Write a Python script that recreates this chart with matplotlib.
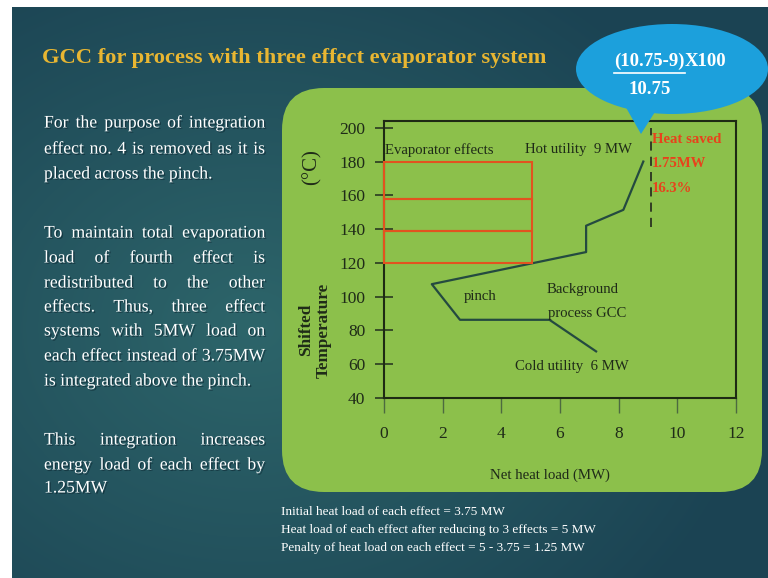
import numpy as np
import matplotlib
matplotlib.use("Agg")
import matplotlib.pyplot as plt
import matplotlib.patheffects as pe
from matplotlib.patches import FancyBboxPatch, Rectangle, Ellipse, Polygon

# ---- data ----
gcc_load = [8.84, 8.16, 6.89, 6.89, 1.63, 2.59, 5.64, 7.23]      # MW
gcc_temp = [180, 151.4, 142, 126.4, 107.4, 86.3, 86.3, 67.6]      # shifted T (C)
effect_bounds = [120, 139, 158, 180]                              # effect temperature levels
effect_load = 5.03                                                # MW per effect
saved_x = 9.1
saved_temp = [141, 200]
x_ticks = [0, 2, 4, 6, 8, 10, 12]
y_ticks = [40, 60, 80, 100, 120, 140, 160, 180, 200]

serif = "Liberation Serif"
W, H = 768, 578

fig = plt.figure(figsize=(7.68, 5.78), dpi=100, facecolor="white")

# background axes in pixel coordinates
bg = fig.add_axes([0, 0, 1, 1], zorder=0)
bg.set_xlim(0, W)
bg.set_ylim(H, 0)
bg.axis("off")

# teal slide background, lighter in the middle
yy, xx = np.mgrid[0:H - 7, 0:W - 12]
d = np.sqrt(((xx - 240) / 520.0) ** 2 + ((yy - 320) / 420.0) ** 2)
d = np.clip(d, 0, 1)[..., None]
c_in = np.array([0x2d, 0x65, 0x6a]) / 255.0
c_out = np.array([0x1b, 0x43, 0x53]) / 255.0
grad = c_in * (1 - d) + c_out * d
bg.imshow(grad, extent=(12, W, H, 7), aspect="auto", interpolation="bilinear")

# green rounded panel
bg.add_patch(FancyBboxPatch((282, 88), 480, 404,
                            boxstyle="round,pad=0,rounding_size=42",
                            facecolor="#8cc04b", edgecolor="none"))

shadow = [pe.withSimplePatchShadow(offset=(1, -1), shadow_rgbFace="#0b2530", alpha=0.6)]

# title
bg.text(42, 58, "GCC for process with three effect evaporator system", color="#e8b632",
        fontsize=16.2, fontweight="bold", family=serif, va="center", ha="left")

renderer = fig.canvas.get_renderer()


def put_line(text, y, x0=44, x1=265, justify=True, size=12.7):
    words = text.split()
    if not justify or len(words) < 2:
        bg.text(x0, y, text, color="white", fontsize=size, family=serif,
                va="center", ha="left", path_effects=shadow)
        return
    objs = [bg.text(0, y, w, color="white", fontsize=size, family=serif,
                    va="center", ha="left", path_effects=shadow) for w in words]
    widths = [o.get_window_extent(renderer).width for o in objs]
    gap = (x1 - x0 - sum(widths)) / (len(words) - 1)
    x = x0
    for o, w in zip(objs, widths):
        o.set_x(x)
        x += w + gap


para1 = ["For the purpose of integration",
         "effect no. 4 is removed as it is",
         "placed across the pinch."]
para2 = ["To maintain total evaporation",
         "load of fourth effect is",
         "redistributed to the other",
         "effects. Thus, three effect",
         "systems with 5MW load on",
         "each effect instead of 3.75MW",
         "is integrated above the pinch."]
para3 = ["This integration increases",
         "energy load of each effect by",
         "1.25MW"]

for lines, ys in [(para1, [123, 149, 174]),
                  (para2, [233, 258, 283, 307, 331, 356, 381]),
                  (para3, [440, 465, 488])]:
    for i, (ln, y) in enumerate(zip(lines, ys)):
        put_line(ln, y, justify=(i < len(lines) - 1))

notes = ["Initial heat load of each effect = 3.75 MW",
         "Heat load of each effect after reducing to 3 effects = 5 MW",
         "Penalty of heat load on each effect = 5 - 3.75 = 1.25 MW"]
for ln, y in zip(notes, [512, 530, 548]):
    bg.text(281, y, ln, color="white", fontsize=9.5, family=serif, va="center", ha="left")

# axis titles (outside the box)
bg.text(550, 475, "Net heat load (MW)", color="#1f2b18", fontsize=10.7, family=serif,
        ha="center", va="center")
bg.text(315, 330, "Shifted\nTemperature", color="#1f2b18", fontsize=12.3, family=serif,
        fontweight="bold", rotation=90, ha="center", va="center", multialignment="center")
bg.text(312, 167, "(\u00b0C)", color="#1f2b18", fontsize=15, family=serif,
        rotation=90, ha="center", va="center")

# ---- main chart ----
ax = fig.add_axes([384 / W, 1 - 398 / H, 352 / W, 277 / H], zorder=3)
ax.set_facecolor("none")
ax.set_xlim(0, 12)
ax.set_ylim(40, 204)
for s in ax.spines.values():
    s.set_color("#1e2a14")
    s.set_linewidth(1.5)

ax.set_xticks(x_ticks)
ax.set_yticks(y_ticks)
ax.set_xticklabels([str(v) for v in x_ticks], family=serif, fontsize=12.5, color="#1f2b18")
ax.set_yticklabels([str(v) for v in y_ticks], family=serif, fontsize=12.5, color="#1f2b18")
ax.tick_params(axis="y", direction="inout", length=13, width=1.2, pad=7, color="#2a3a22")
ax.tick_params(axis="x", direction="out", length=11, width=1.0, pad=9, color="#4d6a40")

# evaporator effects boxes
for lo, hi in zip(effect_bounds[:-1], effect_bounds[1:]):
    ax.add_patch(Rectangle((0, lo), effect_load, hi - lo, fill=False,
                           edgecolor="#e2531f", linewidth=1.5, zorder=4, clip_on=False))

# background process GCC
ax.plot(gcc_load, gcc_temp, color="#244a40", linewidth=1.6, zorder=3)

# heat saved marker
ax.plot([saved_x, saved_x], saved_temp, color="#1a1a1a", linewidth=1.1,
        linestyle=(0, (6, 4)))

ink = "#1f2b18"
ax.text(0.02, 187, "Evaporator effects", fontsize=10.6, family=serif, color=ink, va="center")
ax.text(4.8, 187, "Hot utility  9 MW", fontsize=10.6, family=serif, color=ink, va="center")
ax.text(2.72, 100, "pinch", fontsize=10.6, family=serif, color=ink, va="center")
ax.text(5.55, 104, "Background", fontsize=10.6, family=serif, color=ink, va="center")
ax.text(5.58, 90, "process GCC", fontsize=10.6, family=serif, color=ink, va="center")
ax.text(4.47, 58.7, "Cold utility  6 MW", fontsize=10.6, family=serif, color=ink, va="center")
red = "#e8421c"
ax.text(9.15, 193, "Heat saved", fontsize=10.6, family=serif, color=red, fontweight="bold", va="center")
ax.text(9.12, 178.6, "1.75MW", fontsize=10.6, family=serif, color=red, fontweight="bold", va="center")
ax.text(9.12, 164.2, "16.3%", fontsize=10.6, family=serif, color=red, fontweight="bold", va="center")

# ---- callout bubble on top ----
top = fig.add_axes([0, 0, 1, 1], zorder=10)
top.set_xlim(0, W)
top.set_ylim(H, 0)
top.axis("off")
blue = "#1ca0dc"
top.add_patch(Polygon([(624, 104), (660, 104), (641, 134)], closed=True,
                      facecolor=blue, edgecolor="none"))
top.add_patch(Ellipse((672, 69), 192, 90, facecolor=blue, edgecolor="none"))
num = top.text(614, 61, "(10.75-9)", color="white", fontsize=13.5, family=serif,
               fontweight="bold", va="center", ha="left")
wnum = num.get_window_extent(renderer).width
top.text(614 + wnum, 61, "X100", color="white", fontsize=13.5, family=serif,
         fontweight="bold", va="center", ha="left")
top.plot([614, 614 + wnum], [72.5, 72.5], color="white", linewidth=1.2)
top.text(628, 89, "10.75", color="white", fontsize=13.5, family=serif,
         fontweight="bold", va="center", ha="left")

fig.savefig("out.png", dpi=100)
